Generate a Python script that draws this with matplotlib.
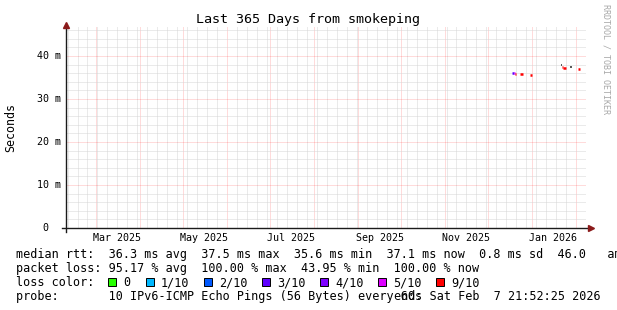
import datetime as dt
import matplotlib
matplotlib.use("Agg")
import matplotlib.pyplot as plt
import matplotlib.dates as mdates
import matplotlib.ticker as mticker
import matplotlib.transforms as mtransforms
from matplotlib.patches import Rectangle

# ---------------- data ----------------
title = "Last 365 Days from smokeping"
y_label = "Seconds"
watermark = "RRDTOOL / TOBI OETIKER"

range_end = dt.datetime(2026, 2, 7, 21, 52, 25)
range_days = 365

y_ticks = [0, 10, 20, 30, 40]
y_tick_labels = [" 0", "10 m", "20 m", "30 m", "40 m"]
y_max = 47.0

x_label_dates = ["2025-03-16", "2025-05-16", "2025-07-16",
                 "2025-09-16", "2025-11-16", "2026-01-16"]
x_tick_labels = ["Mar 2025", "May 2025", "Jul 2025",
                 "Sep 2025", "Nov 2025", "Jan 2026"]

# median rtt segments (ms) with loss class index
seg_start = ["2025-12-18 06:00", "2025-12-19 02:00", "2025-12-19 22:00",
             "2025-12-23 16:00", "2025-12-30 16:00",
             "2026-01-21 19:00", "2026-01-22 20:00", "2026-02-02 02:00"]
seg_end = ["2025-12-19 02:00", "2025-12-19 22:00", "2025-12-20 20:00",
           "2025-12-25 18:00", "2026-01-01 02:00",
           "2026-01-22 20:00", "2026-01-24 15:00", "2026-02-03 12:00"]
seg_median = [36.0, 36.0, 35.9, 35.8, 35.6, 37.5, 37.2, 37.1]
seg_loss = [3, 5, 6, 6, 6, 6, 6, 6]

# smoke (dark) fragments
smoke_start = ["2026-01-21 10:00", "2026-01-27 18:00"]
smoke_end = ["2026-01-22 06:00", "2026-01-29 04:00"]
smoke_value = [37.9, 37.4]

loss_labels = ["0", "1/10", "2/10", "3/10", "4/10", "5/10", "9/10"]
loss_colors = ["#26ff00", "#00b8ff", "#0059ff", "#5e00ff",
               "#7e00ff", "#dd00ff", "#ff0000"]

stat_lines = [
    "median rtt:  36.3 ms avg  37.5 ms max  35.6 ms min  37.1 ms now  0.8 ms sd  46.0   am/s",
    "packet loss: 95.17 % avg  100.00 % max  43.95 % min  100.00 % now",
    "loss color:",
    "probe:       10 IPv6-ICMP Echo Pings (56 Bytes) every 60s",
]
end_text = "end: Sat Feb  7 21:52:25 2026"

# ---------------- figure ----------------
W, H = 617, 310
MONO = "DejaVu Sans Mono"
fig = plt.figure(figsize=(W / 100, H / 100), dpi=100)
fig.patch.set_facecolor("white")


def fx(x):
    return x / W


def fy(y):
    return 1 - y / H


ax = fig.add_axes([fx(66), fy(228), 520 / W, 202 / H])
ax.set_facecolor("white")

t0 = range_end - dt.timedelta(days=range_days)
ax.set_xlim(mdates.date2num(t0), mdates.date2num(range_end))
ax.set_ylim(0, y_max)

ax.xaxis.set_major_locator(mdates.MonthLocator())
ax.xaxis.set_minor_locator(mdates.WeekdayLocator(byweekday=mdates.SU))
ax.yaxis.set_major_locator(mticker.FixedLocator(y_ticks))
ax.yaxis.set_minor_locator(mticker.MultipleLocator(2))
ax.tick_params(which="both", length=0, labelbottom=False, labelleft=False)

ax.grid(which="minor", color="#d6d6d6", linestyle=(0, (1, 1)), linewidth=0.72)
ax.grid(which="major", color="#ff0000", alpha=0.28, linestyle=(0, (1, 1)), linewidth=0.72)
ax.set_axisbelow(True)
for s in ax.spines.values():
    s.set_visible(False)

# axes with arrows
axis_col = "#1a1a1a"
arrow_col = "#8b1a1a"
x0 = (62 - 66) / 520
x1 = (591 - 66) / 520
ax.plot([x0, x1], [0, 0], color=axis_col, lw=1.0, transform=ax.transAxes, clip_on=False, zorder=5)
ax.plot([1 + (591 - 586) / 520], [0], marker=">", ms=4.5, color=arrow_col,
        transform=ax.transAxes, clip_on=False, zorder=6)
y0 = (228 - 232) / 202
y1 = (228 - 25) / 202
ax.plot([0, 0], [y0, y1], color=axis_col, lw=1.0, transform=ax.transAxes, clip_on=False, zorder=5)
ax.plot([0], [y1], marker="^", ms=4.5, color=arrow_col,
        transform=ax.transAxes, clip_on=False, zorder=6)

# data
to_num = lambda s: mdates.date2num(dt.datetime.strptime(s, "%Y-%m-%d %H:%M"))
for a, b, v in zip(smoke_start, smoke_end, smoke_value):
    ax.hlines(v, to_num(a), to_num(b), colors="#3a3a3a", lw=1.2, zorder=3)
for a, b, v, l in zip(seg_start, seg_end, seg_median, seg_loss):
    ax.hlines(v, to_num(a), to_num(b), colors=loss_colors[l], lw=1.8, zorder=4)

# tick labels
tr_x = mtransforms.blended_transform_factory(ax.transData, fig.transFigure)
for d, lab in zip(x_label_dates, x_tick_labels):
    xv = mdates.date2num(dt.datetime.strptime(d, "%Y-%m-%d"))
    ax.text(xv, fy(238), lab, transform=tr_x, ha="center", va="center",
            fontsize=7.2, family=MONO, color="black")
tr_y = mtransforms.blended_transform_factory(fig.transFigure, ax.transData)
for v, lab in zip(y_ticks, y_tick_labels):
    ax.text(fx(37), v, lab, transform=tr_y, ha="left", va="center",
            fontsize=7.2, family=MONO, color="black")

# title, y label, watermark
fig.text(fx(308), fy(19), title, ha="center", va="center", fontsize=9.6, family=MONO)
fig.text(fx(11), fy(127), y_label, ha="center", va="center", rotation=90,
         fontsize=8.4, family=MONO)
fig.text(fx(606), fy(4), watermark, ha="center", va="top", rotation=270,
         fontsize=6.0, family=MONO, color="#a8a8a8")

# stats
row_y = [254.5, 268.5, 282.5, 296.5]
for y, line in zip(row_y, stat_lines):
    fig.text(fx(16), fy(y), line, ha="left", va="center", fontsize=8.45, family=MONO)
fig.text(fx(601), fy(296.5), end_text, ha="right", va="center", fontsize=8.45, family=MONO)

# loss legend
box_x = [108, 146, 204, 262, 320, 378, 436]
for bx, lab, col in zip(box_x, loss_labels, loss_colors):
    fig.patches.append(Rectangle((fx(bx), fy(286)), 8 / W, 8 / H, transform=fig.transFigure,
                                 facecolor=col, edgecolor="black", lw=0.7))
    fig.text(fx(bx + 15), fy(282.5), lab, ha="left", va="center", fontsize=8.45, family=MONO)

fig.savefig("out.png", dpi=100, facecolor="white")
